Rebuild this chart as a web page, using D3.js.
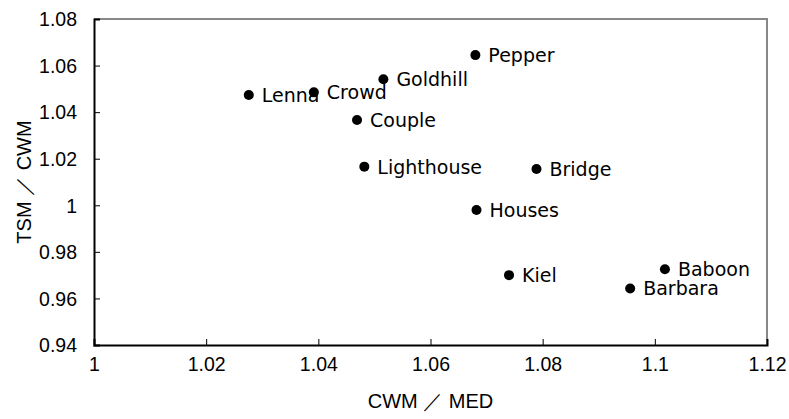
<!DOCTYPE html>
<html>
<head>
<meta charset="utf-8">
<script src="https://cdn.jsdelivr.net/npm/d3@7"></script>
<style>
    body { margin: 0; background: #fff; }
    svg { display: block; }
    .tick text { font-family: "Liberation Sans", Arial, sans-serif; font-size: 19.5px; fill: #000; }
    .lbl { font-family: "DejaVu Sans", sans-serif; font-size: 19px; fill: #000; }
    .title { font-family: "Liberation Sans", Arial, sans-serif; font-size: 20px; fill: #000; }
</style>
</head>
<body>
<svg width="789" height="419"></svg>
<script>
// Image names and their ratios
var names = ["Lenna", "Crowd", "Goldhill", "Pepper", "Couple", "Lighthouse",
             "Bridge", "Houses", "Kiel", "Baboon", "Barbara"];
var cwmMed = [1.0276, 1.0392, 1.0516, 1.0680, 1.0469, 1.0482,
              1.0789, 1.0682, 1.0740, 1.1018, 1.0956];
var tsmCwm = [1.0474, 1.0485, 1.0541, 1.0645, 1.0366, 1.0166,
              1.0156, 0.9980, 0.9700, 0.9725, 0.9643];
var xTicks = [1, 1.02, 1.04, 1.06, 1.08, 1.1, 1.12];
var yTicks = [0.94, 0.96, 0.98, 1, 1.02, 1.04, 1.06, 1.08];

var margin = { left: 94, right: 22, top: 19, bottom: 74 };
var svg = d3.select("svg");
var W = +svg.attr("width"), H = +svg.attr("height");

var x = d3.scaleLinear().domain([1, 1.12]).range([margin.left, W - margin.right]);
var y = d3.scaleLinear().domain([0.94, 1.08]).range([H - margin.bottom, margin.top]);

// box: top and right in grey
svg.append("path")
    .attr("d", "M" + x(1) + "," + y(1.08) + "H" + x(1.12) + "V" + y(0.94))
    .attr("fill", "none")
    .attr("stroke", "#888")
    .attr("stroke-width", 2);

var xAxis = svg.append("g")
    .attr("transform", "translate(0," + y(0.94) + ")")
    .call(d3.axisBottom(x).tickValues(xTicks).tickSize(-6).tickPadding(12).tickFormat(d3.format("")));
var yAxis = svg.append("g")
    .attr("transform", "translate(" + x(1) + ",0)")
    .call(d3.axisLeft(y).tickValues(yTicks).tickSize(-6).tickPadding(17).tickFormat(d3.format("")));

[xAxis, yAxis].forEach(function (g) {
    g.select(".domain").attr("stroke", "#000").attr("stroke-width", 2);
    g.selectAll(".tick line").attr("stroke", "#000");
});
xAxis.selectAll(".tick").filter(function (d) { return d === 1 || d === 1.12; }).select("line").remove();
yAxis.selectAll(".tick").filter(function (d) { return d === 0.94 || d === 1.08; }).select("line").remove();
yAxis.selectAll(".tick text").attr("dy", "0.35em");

// points
var pts = svg.append("g").selectAll("g")
    .data(names)
    .enter()
    .append("g");
pts.append("circle")
    .attr("cx", function (d, i) { return x(cwmMed[i]); })
    .attr("cy", function (d, i) { return y(tsmCwm[i]); })
    .attr("r", 5)
    .attr("fill", "#000");
pts.append("text")
    .attr("class", "lbl")
    .attr("x", function (d, i) { return x(cwmMed[i]) + 13; })
    .attr("y", function (d, i) { return y(tsmCwm[i]) + 7; })
    .text(function (d) { return d; });

// axis titles
svg.append("text")
    .attr("class", "title")
    .attr("x", (x(1) + x(1.12)) / 2)
    .attr("y", 408)
    .attr("text-anchor", "middle")
    .text("CWM ／ MED");
svg.append("text")
    .attr("class", "title")
    .attr("transform", "translate(31," + (y(0.94) + y(1.08)) / 2 + ") rotate(-90)")
    .attr("text-anchor", "middle")
    .text("TSM ／ CWM");
</script>
</body>
</html>
